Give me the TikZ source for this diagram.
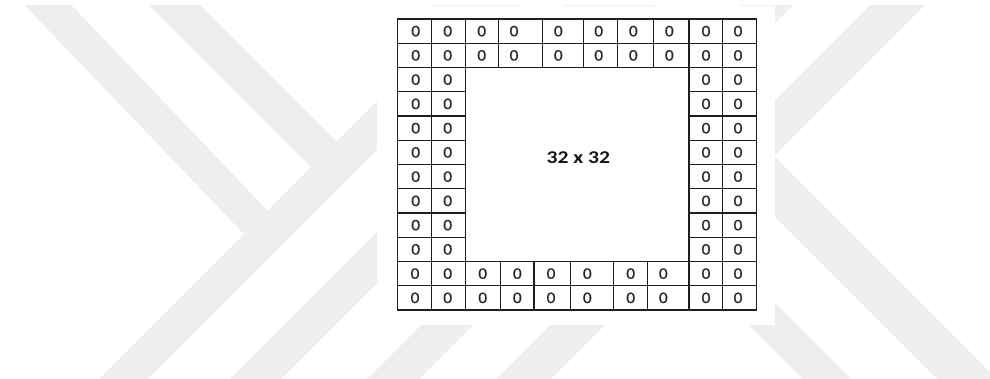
\documentclass[tikz,border=0pt]{standalone}
\usepackage{fontspec}
\newfontfamily\cellfont[FakeStretch=1.2,Numbers=Lining]{Carlito}
\newfontfamily\cellfontheavy[FakeStretch=1.08,Numbers=Lining,FakeBold=0.8]{Carlito}
\definecolor{wmgray}{RGB}{238,238,238}
\definecolor{linegray}{RGB}{30,30,30}
\definecolor{digitgray}{RGB}{40,40,40}
\definecolor{titlegray}{RGB}{20,20,20}
\begin{document}
\begin{tikzpicture}[x=1pt,y=-1pt,
  band/.style={fill=wmgray,draw=none},
  cellbox/.style={draw=linegray,line width=1.4pt,anchor=north west,inner sep=0pt,outer sep=0pt,minimum height=24.25pt},
  digit/.style={text=digitgray,font=\cellfontheavy\fontsize{16}{16}\selectfont,inner sep=0pt},
  sizelabel/.style={text=titlegray,font=\cellfont\bfseries\fontsize{18}{18}\selectfont,inner sep=0pt}]
\useasboundingbox (0,0) rectangle (990,379);
% watermark bands
\begin{scope}
  \clip (0,6) rectangle (990,379);
  \fill[band] (10,-10) -- (57,-10) -- (267.5,210.5) -- (244,234) -- cycle;
  \fill[band] (134,-10) -- (185,-10) -- (336.5,141.5) -- (311,167) -- cycle;
  \fill[band] (488,-10) -- (537,-10) -- (137,390) -- (88,390) -- cycle;
  \fill[band] (619,-10) -- (670,-10) -- (270,390) -- (219,390) -- cycle;
  \fill[band] (756,-10) -- (808,-10) -- (408,390) -- (356,390) -- cycle;
  \fill[band] (885,-10) -- (940,-10) -- (540,390) -- (485,390) -- cycle;
  \fill[band] (548,-10) -- (608,-10) -- (1008,390) -- (948,390) -- cycle;
  \fill[band] (414,-10) -- (462,-10) -- (862,390) -- (814,390) -- cycle;
\end{scope}
\fill[white] (377,6) rectangle (775,325);
% top two rows
\foreach \r in {1,2} {
  \foreach \c/\x/\w/\dx in {1/397.3/34.4/415.7, 2/431.7/34/447.7, 3/465.7/32.6/481.7, 4/498.3/44/514, 5/542.3/41/558.3, 6/583.3/34/598.7, 7/617.3/36/633.3, 8/653.3/35.7/669.3, 9/689/33.3/706, 10/722.3/34.4/738} {
    \pgfmathsetmacro{\yt}{19+24.25*(\r-1)}
    \pgfmathsetmacro{\yc}{\yt+12.125}
    \node[cellbox,minimum width=\w pt] (c-\r-\c) at (\x,\yt) {};
    \node[digit] (d-\r-\c) at (\dx,\yc) {0};
  }
}
% middle rows (sides only)
\foreach \r in {3,...,10} {
  \foreach \c/\x/\w/\dx in {1/397.3/34.4/415.7, 2/431.7/34/447.7, 9/689/33.3/706, 10/722.3/34.4/738} {
    \pgfmathsetmacro{\yt}{19+24.25*(\r-1)}
    \pgfmathsetmacro{\yc}{\yt+12.125}
    \node[cellbox,minimum width=\w pt] (c-\r-\c) at (\x,\yt) {};
    \node[digit] (d-\r-\c) at (\dx,\yc) {0};
  }
}
% bottom two rows
\foreach \r in {11,12} {
  \foreach \c/\x/\w/\dx in {1/397.3/34.4/415, 2/431.7/34/447.7, 3/465.7/35/482.7, 4/500.7/33.3/517.3, 5/534/36.7/551, 6/570.7/42.6/587.3, 7/613.3/34/630.7, 8/647.3/41.7/663.3, 9/689/33.3/706, 10/722.3/34.4/738} {
    \pgfmathsetmacro{\yt}{19+24.25*(\r-1)}
    \pgfmathsetmacro{\yc}{\yt+12.125}
    \node[cellbox,minimum width=\w pt] (c-\r-\c) at (\x,\yt) {};
    \node[digit] (d-\r-\c) at (\dx,\yc) {0};
  }
}
\node[sizelabel] (size) at (578.3,157.2) {32 x 32};
\end{tikzpicture}
\end{document}
